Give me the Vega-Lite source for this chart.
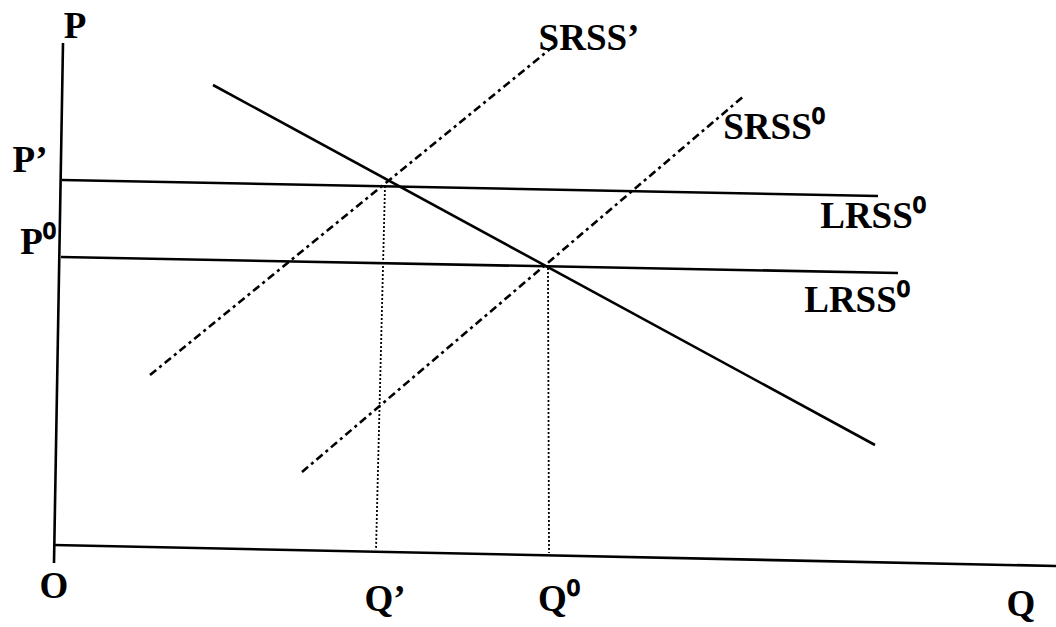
{
  "$schema": "https://vega.github.io/schema/vega-lite/v6.json",
  "width": 1056,
  "height": 627,
  "padding": 0,
  "autosize": {"type": "none"},
  "background": "white",
  "config": {"view": {"stroke": null}},
  "datasets": {
    "segments": [
      {"name": "P axis", "kind": "axis", "x": 63, "y": 43, "x2": 54, "y2": 563},
      {"name": "Q axis", "kind": "axis", "x": 54, "y": 545, "x2": 1056, "y2": 566},
      {"name": "Demand", "kind": "solid", "x": 213, "y": 85, "x2": 875, "y2": 445},
      {"name": "LRSS upper", "kind": "solid", "x": 62, "y": 180, "x2": 878, "y2": 196},
      {"name": "LRSS lower", "kind": "solid", "x": 61, "y": 257, "x2": 898, "y2": 273},
      {"name": "SRSS'", "kind": "dashdot", "x": 150, "y": 375, "x2": 555, "y2": 45},
      {"name": "SRSS0", "kind": "dashdot", "x": 302, "y": 472, "x2": 745, "y2": 95},
      {"name": "Q' drop", "kind": "dotted", "x": 385, "y": 186, "x2": 376, "y2": 550},
      {"name": "Q0 drop", "kind": "dotted", "x": 548, "y": 268, "x2": 549, "y2": 553}
    ],
    "labels": [
      {"text": "P", "x": 75, "y": 38},
      {"text": "P’", "x": 30, "y": 172},
      {"text": "P⁰", "x": 38, "y": 254},
      {"text": "O", "x": 54, "y": 598},
      {"text": "Q’", "x": 385, "y": 611},
      {"text": "Q⁰", "x": 559, "y": 611},
      {"text": "Q", "x": 1021, "y": 616},
      {"text": "SRSS’", "x": 589, "y": 50},
      {"text": "SRSS⁰", "x": 774, "y": 139},
      {"text": "LRSS⁰", "x": 873, "y": 228},
      {"text": "LRSS⁰", "x": 857, "y": 312}
    ]
  },
  "encoding": {
    "x": {"field": "x", "type": "quantitative", "scale": {"domain": [0, 1056], "nice": false, "zero": false}, "axis": null},
    "y": {"field": "y", "type": "quantitative", "scale": {"domain": [0, 627], "nice": false, "zero": false, "reverse": true}, "axis": null}
  },
  "layer": [
    {
      "data": {"name": "segments"},
      "transform": [{"filter": "datum.kind === 'axis' || datum.kind === 'solid'"}],
      "mark": {"type": "rule", "color": "black", "strokeWidth": 2.6},
      "encoding": {"x2": {"field": "x2"}, "y2": {"field": "y2"}}
    },
    {
      "data": {"name": "segments"},
      "transform": [{"filter": "datum.kind === 'dashdot'"}],
      "mark": {"type": "rule", "color": "black", "strokeWidth": 2.6, "strokeDash": [8, 4, 3, 4]},
      "encoding": {"x2": {"field": "x2"}, "y2": {"field": "y2"}}
    },
    {
      "data": {"name": "segments"},
      "transform": [{"filter": "datum.kind === 'dotted'"}],
      "mark": {"type": "rule", "color": "black", "strokeWidth": 1.8, "strokeDash": [2, 2]},
      "encoding": {"x2": {"field": "x2"}, "y2": {"field": "y2"}}
    },
    {
      "data": {"name": "labels"},
      "mark": {"type": "text", "font": "Liberation Serif", "fontWeight": "bold", "fontSize": 37, "color": "black", "align": "center", "baseline": "alphabetic"},
      "encoding": {"text": {"field": "text"}}
    }
  ]
}
